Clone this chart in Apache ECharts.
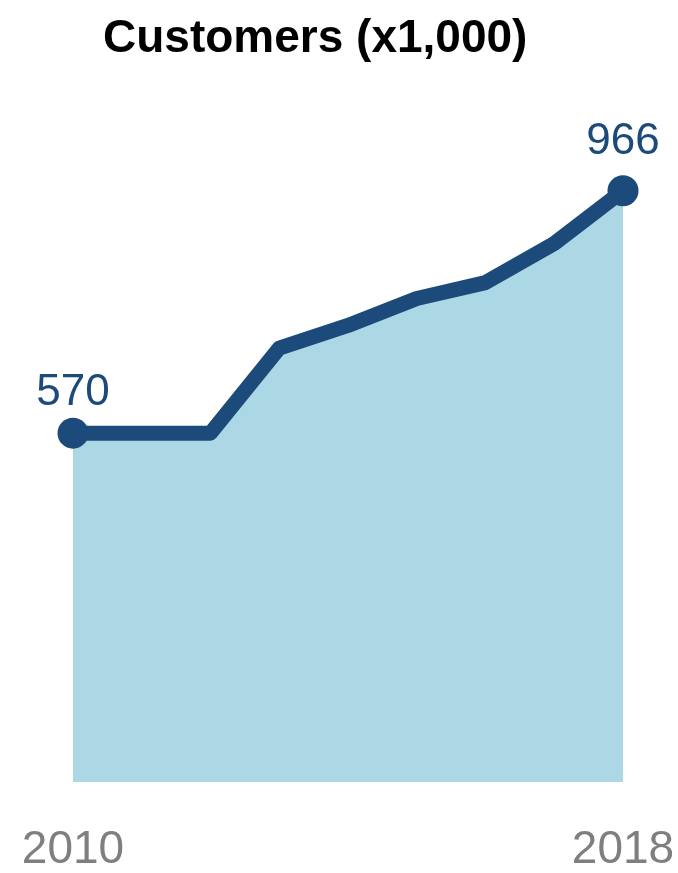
<!DOCTYPE html>
<html>
<head>
<meta charset="utf-8">
<script src="https://cdn.jsdelivr.net/npm/echarts@6/dist/echarts.min.js"></script>
<style>
  html, body { margin: 0; padding: 0; background: #ffffff; }
  #chart { width: 678px; height: 873px; }
</style>
</head>
<body>
<div id="chart"></div>
<script>
// Customer counts per year, in thousands
var years = ['2010', '2011', '2012', '2013', '2014', '2015', '2016', '2017', '2018'];
var customers = [570, 570, 570, 709, 746, 790, 816, 880, 966];

var chart = echarts.init(document.getElementById('chart'));
var lastIndex = years.length - 1;
var FONT = 'Liberation Sans, Arial, sans-serif';

// Only the first and last points get a marker and a value label
var seriesData = customers.map(function (v, i) {
  var isEnd = (i === 0 || i === lastIndex);
  return {
    value: v,
    symbolSize: isEnd ? 31 : 0,
    label: {
      show: isEnd,
      distance: i === 0 ? 3 : 11
    }
  };
});

chart.setOption({
  animation: false,
  title: {
    text: 'Customers (x1,000)',
    left: 98,
    top: 11,
    textStyle: {
      fontFamily: FONT,
      fontWeight: 'bold',
      fontSize: 46,
      color: '#000000'
    }
  },
  grid: { left: 73, right: 55, top: 170, bottom: 89 },
  xAxis: {
    type: 'category',
    data: years,
    boundaryGap: false,
    axisLine: { show: false },
    axisTick: { show: false },
    axisLabel: {
      margin: 45,
      fontFamily: FONT,
      fontSize: 46,
      color: '#7f7f7f',
      interval: function (i) { return i === 0 || i === lastIndex; }
    }
  },
  yAxis: {
    type: 'value',
    min: 0,
    max: 1000,
    show: false,
    splitLine: { show: false }
  },
  series: [{
    type: 'line',
    data: seriesData,
    lineStyle: { color: '#1c4a7b', width: 15, join: 'round' },
    itemStyle: { color: '#1c4a7b' },
    areaStyle: { color: '#acd7e4', opacity: 1 },
    symbol: 'circle',
    showAllSymbol: true,
    label: {
      position: 'top',
      fontFamily: FONT,
      fontSize: 44,
      color: '#1c4a7b'
    }
  }]
});
</script>
</body>
</html>
